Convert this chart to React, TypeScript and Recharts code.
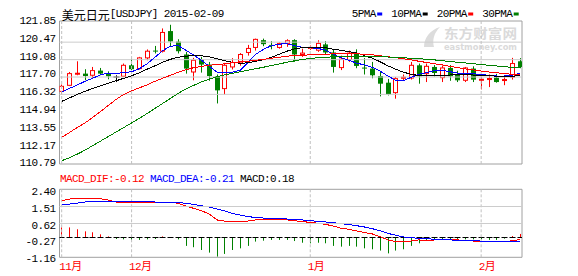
import React from "react";
import { ComposedChart, Bar, Line, XAxis, YAxis, ReferenceLine, ReferenceArea } from "recharts";

// trading days shown on the chart
const dates = [
  "2014-11-18", "2014-11-19", "2014-11-20", "2014-11-21", "2014-11-24", "2014-11-25", "2014-11-26", "2014-11-27", "2014-11-28",
  "2014-12-01", "2014-12-02", "2014-12-03", "2014-12-04", "2014-12-05", "2014-12-08", "2014-12-09", "2014-12-10", "2014-12-11",
  "2014-12-12", "2014-12-15", "2014-12-16", "2014-12-17", "2014-12-18", "2014-12-19", "2014-12-22", "2014-12-23", "2014-12-24",
  "2014-12-25", "2014-12-26", "2014-12-29", "2014-12-30", "2014-12-31",
  "2015-01-01", "2015-01-02", "2015-01-05", "2015-01-06", "2015-01-07", "2015-01-08", "2015-01-09", "2015-01-12", "2015-01-13",
  "2015-01-14", "2015-01-15", "2015-01-16", "2015-01-19", "2015-01-20", "2015-01-21", "2015-01-22", "2015-01-23", "2015-01-26",
  "2015-01-27", "2015-01-28", "2015-01-29", "2015-01-30",
  "2015-02-02", "2015-02-03", "2015-02-04", "2015-02-05", "2015-02-06", "2015-02-09",
];

const opens = [
  116.56, 117.04, 117.95, 117.97, 117.84, 118.21, 117.97, 117.70, 117.76, 118.63,
  118.37, 119.22, 119.80, 119.75, 121.35, 120.51, 119.49, 118.10, 119.09, 118.69,
  117.76, 116.78, 118.50, 118.82, 119.65, 120.05, 120.63, 120.25, 120.05, 120.37,
  120.63, 119.49, 119.97, 119.83, 120.29, 119.65, 118.45, 119.09, 119.57, 118.45,
  118.37, 117.78, 117.25, 116.46, 117.62, 117.62, 118.63, 117.97, 118.50, 117.65,
  118.42, 117.89, 117.44, 118.37, 117.45, 117.50, 117.65, 117.45, 117.70, 118.95,
];
const highs = [
  117.10, 118.10, 118.95, 118.32, 118.50, 118.42, 118.15, 117.84, 118.77, 119.17,
  119.30, 119.89, 120.17, 121.56, 121.85, 120.70, 119.70, 119.22, 119.30, 118.90,
  117.90, 118.82, 119.20, 119.60, 120.25, 120.75, 120.75, 120.55, 120.45, 120.70,
  120.70, 119.95, 120.20, 120.62, 120.55, 119.85, 119.40, 119.80, 119.90, 119.20,
  118.90, 118.10, 117.55, 117.70, 117.90, 118.90, 118.77, 118.77, 118.65, 118.62,
  118.65, 118.20, 118.50, 118.55, 117.70, 117.90, 117.95, 117.80, 119.22, 119.20,
];
const lows = [
  116.30, 116.98, 117.84, 117.44, 117.57, 117.84, 117.52, 117.30, 117.70, 118.24,
  118.29, 119.03, 119.57, 119.65, 120.10, 119.57, 117.97, 117.44, 118.05, 117.40,
  115.60, 116.30, 118.30, 118.60, 119.40, 119.80, 120.15, 119.90, 119.95, 120.10,
  118.90, 119.30, 119.85, 119.70, 119.45, 118.05, 118.25, 118.90, 118.40, 117.90,
  117.60, 116.16, 116.24, 115.98, 117.40, 117.50, 117.17, 117.30, 117.75, 117.30,
  117.40, 117.30, 117.30, 117.30, 116.72, 116.90, 117.25, 117.05, 117.50, 118.40,
];
const closes = [
  116.96, 117.97, 118.00, 117.78, 118.21, 117.97, 117.76, 117.70, 118.63, 118.32,
  119.22, 119.75, 119.75, 121.24, 120.53, 119.75, 118.37, 119.03, 118.69, 117.78,
  116.64, 118.63, 118.85, 119.49, 119.97, 120.69, 120.31, 120.20, 120.37, 120.58,
  119.49, 119.60, 120.05, 120.37, 119.65, 118.50, 119.12, 119.60, 118.58, 118.38,
  117.84, 117.17, 116.32, 117.57, 117.68, 118.63, 117.76, 118.55, 118.02, 118.42,
  117.76, 117.44, 118.42, 117.49, 117.52, 117.58, 117.30, 117.50, 118.77, 118.50,
];

// moving averages
const ma5 = [
  116.48, 116.80, 117.06, 117.36, 117.60, 117.88, 118.00, 118.00, 118.04, 118.12,
  118.36, 118.75, 119.27, 119.79, 120.15, 120.19, 119.83, 119.43, 119.03, 118.55,
  118.08, 118.04, 118.08, 118.24, 118.87, 119.51, 119.91, 120.19, 120.31, 120.35,
  120.19, 120.05, 120.02, 119.97, 119.83, 119.51, 119.22, 119.03, 118.79, 118.67,
  118.47, 118.16, 117.78, 117.44, 117.40, 117.68, 117.92, 118.05, 118.20, 118.24,
  118.12, 118.00, 117.97, 117.96, 117.89, 117.84, 117.78, 117.78, 117.84, 118.00,
];
const ma10 = [
  115.76, 116.04, 116.32, 116.56, 116.80, 117.00, 117.20, 117.40, 117.60, 117.80,
  118.04, 118.32, 118.59, 118.87, 119.11, 119.27, 119.35, 119.41, 119.39, 119.30,
  119.15, 118.99, 118.87, 118.79, 118.83, 118.95, 119.07, 119.27, 119.51, 119.75,
  119.95, 120.03, 120.05, 120.05, 120.02, 119.91, 119.81, 119.71, 119.62, 119.39,
  119.19, 118.91, 118.59, 118.32, 118.08, 117.92, 117.81, 117.78, 117.80, 117.84,
  117.86, 117.88, 117.88, 117.86, 117.84, 117.80, 117.77, 117.76, 117.77, 117.80,
];
const ma20 = [
  112.91, 113.29, 113.69, 114.05, 114.49, 114.96, 115.44, 115.92, 116.32, 116.60,
  116.84, 117.08, 117.36, 117.60, 117.84, 118.08, 118.28, 118.44, 118.55, 118.63,
  118.69, 118.75, 118.83, 118.90, 118.95, 119.03, 119.11, 119.19, 119.27, 119.35,
  119.41, 119.43, 119.46, 119.47, 119.51, 119.54, 119.55, 119.55, 119.54, 119.51,
  119.46, 119.39, 119.31, 119.23, 119.15, 119.06, 118.95, 118.85, 118.75, 118.66,
  118.55, 118.44, 118.34, 118.26, 118.18, 118.10, 118.04, 117.97, 117.92, 117.88,
];
const ma30 = [
  111.05, 111.29, 111.57, 111.89, 112.25, 112.61, 112.97, 113.33, 113.69, 114.05,
  114.41, 114.80, 115.20, 115.60, 116.00, 116.40, 116.76, 117.04, 117.32, 117.52,
  117.72, 117.88, 118.00, 118.12, 118.24, 118.36, 118.48, 118.61, 118.74, 118.87,
  118.99, 119.09, 119.17, 119.23, 119.27, 119.31, 119.34, 119.35, 119.35, 119.35,
  119.34, 119.31, 119.29, 119.26, 119.23, 119.19, 119.15, 119.11, 119.06, 118.99,
  118.93, 118.87, 118.82, 118.75, 118.69, 118.63, 118.58, 118.52, 118.46, 118.47,
];

// MACD panel
const dif = [
  1.96, 2.05, 2.08, 2.08, 2.08, 2.07, 1.99, 1.89, 1.87, 1.85,
  1.85, 1.85, 1.85, 1.85, 1.87, 1.82, 1.67, 1.55, 1.42, 1.25,
  0.93, 0.87, 0.82, 0.82, 0.87, 0.93, 0.96, 0.96, 0.93, 0.93,
  0.89, 0.84, 0.80, 0.75, 0.69, 0.60, 0.48, 0.43, 0.34, 0.25,
  0.18, 0.03, -0.14, -0.23, -0.23, -0.20, -0.14, -0.18, -0.14, -0.14,
  -0.14, -0.14, -0.16, -0.20, -0.20, -0.25, -0.25, -0.25, -0.18, -0.12,
];
const dea = [
  1.73, 1.78, 1.83, 1.89, 1.92, 1.94, 1.94, 1.94, 1.94, 1.92,
  1.91, 1.91, 1.89, 1.89, 1.89, 1.87, 1.82, 1.76, 1.69, 1.62,
  1.51, 1.41, 1.28, 1.19, 1.10, 1.07, 1.03, 1.01, 1.00, 0.98,
  0.96, 0.93, 0.89, 0.85, 0.82, 0.78, 0.73, 0.68, 0.62, 0.55,
  0.46, 0.35, 0.21, 0.11, 0.02, -0.02, -0.06, -0.07, -0.11, -0.13,
  -0.14, -0.16, -0.18, -0.18, -0.20, -0.23, -0.23, -0.23, -0.23, -0.21,
];
const macd = [
  0.53, 0.53, 0.43, 0.32, 0.27, 0.16, 0.05, -0.09, -0.11, -0.14,
  -0.14, -0.11, -0.09, 0.05, -0.02, -0.11, -0.46, -0.53, -0.68, -0.82,
  -1.03, -0.89, -0.68, -0.59, -0.46, -0.23, -0.18, -0.14, -0.14, -0.14,
  -0.20, -0.29, -0.32, -0.29, -0.32, -0.46, -0.50, -0.46, -0.50, -0.59,
  -0.64, -0.71, -0.86, -0.71, -0.64, -0.46, -0.32, -0.18, -0.14, -0.14,
  -0.14, -0.11, -0.11, -0.11, -0.11, -0.14, -0.14, -0.07, 0.07, 0.18,
];

const priceTicks = [121.85, 120.47, 119.08, 117.7, 116.32, 114.94, 113.55, 112.17, 110.79];
const priceGrid = [120.47, 119.08, 117.7, 116.32];
const macdTicks = [2.4, 1.51, 0.62, -0.27, -1.16];
const macdGrid = [1.51, 0.62];

const maNames = ["5PMA", "10PMA", "20PMA", "30PMA"];
const maKeys = ["ma5", "ma10", "ma20", "ma30"];
const maColors = ["#0000ff", "#000000", "#ff0000", "#008000"];

const UP = "#ff0000";
const DOWN = "#008000";
const FLAT = "#000000";
const MONO = "'Liberation Mono', 'Noto Sans CJK SC', monospace";
const CJK = "'Noto Sans CJK SC', sans-serif";

const W = 578;
const H = 276;
const PLOT_LEFT = 59.5;
const PLOT_RIGHT = 522;
const X_DOMAIN: [number, number] = [-0.28, 59.26];

const data = dates.map((d, i) => ({
  i,
  date: d,
  open: opens[i],
  high: highs[i],
  low: lows[i],
  close: closes[i],
  range: [lows[i], highs[i]],
  ma5: ma5[i],
  ma10: ma10[i],
  ma20: ma20[i],
  ma30: ma30[i],
  dif: dif[i],
  dea: dea[i],
  hist: macd[i],
}));

// first trading day of each month
const monthTicks = dates
  .map((d, i) => (i === 0 || d.slice(5, 7) !== dates[i - 1].slice(5, 7) ? i : -1))
  .filter((i) => i >= 0);
const monthLabel = (i: number) => `${Number(dates[i].slice(5, 7))}月`;

function Candle(props: any) {
  const { x, y, width, height, payload } = props;
  if (x == null || payload == null) return null;
  const { open, close, high, low } = payload;
  const top = Math.min(y, y + height);
  const h = Math.abs(height);
  const k = high > low ? h / (high - low) : 0;
  const py = (v: number) => top + (high - v) * k;
  const cx = Math.floor(x + width / 2) + 0.5;
  const bTop = py(Math.max(open, close));
  const bBot = py(Math.min(open, close));
  if (close > open) {
    return (
      <g>
        <line x1={cx} x2={cx} y1={top} y2={bTop} stroke={UP} />
        <line x1={cx} x2={cx} y1={bBot} y2={top + h} stroke={UP} />
        <rect x={cx - 2} y={bTop} width={4} height={Math.max(bBot - bTop, 1)} fill="#fff" stroke={UP} />
      </g>
    );
  }
  const color = close < open ? DOWN : FLAT;
  return (
    <g>
      <line x1={cx} x2={cx} y1={top} y2={top + h} stroke={color} />
      {close < open ? (
        <rect x={cx - 2.5} y={bTop} width={5} height={Math.max(bBot - bTop, 1)} fill={color} />
      ) : (
        <line x1={cx - 3} x2={cx + 3} y1={bTop} y2={bTop} stroke={color} />
      )}
    </g>
  );
}

function MacdBar(props: any) {
  const { x, y, width, height, payload } = props;
  if (x == null || payload == null) return null;
  const top = Math.min(y, y + height);
  const bot = Math.max(y, y + height);
  const v = payload.hist;
  const base = Math.round((v >= 0 ? bot : top) - 0.5) + 0.5;
  const cx = Math.floor(x + width / 2) + 0.5;
  return (
    <g>
      <line x1={cx} x2={cx} y1={top} y2={bot} stroke={v >= 0 ? UP : DOWN} />
      <line x1={cx - 3} x2={cx + 3} y1={base} y2={base} stroke="#000" />
    </g>
  );
}

// eastmoney spreads the price labels evenly from the top to the bottom edge
function PriceTick(props: any) {
  const { payload, index } = props;
  const y = 21 + (index * 142.3) / (priceTicks.length - 1);
  return (
    <text x={55.5} y={y} dominantBaseline="central" textAnchor="end" fontSize={11} fontFamily={MONO} letterSpacing={-0.6} fill="#000">
      {payload.value.toFixed(2)}
    </text>
  );
}

function MacdTick(props: any) {
  const { y, payload } = props;
  const grid = macdGrid.includes(payload.value);
  return (
    <g>
      {grid && <line x1={PLOT_LEFT} x2={PLOT_RIGHT} y1={Math.round(y - 3) + 0.5} y2={Math.round(y - 3) + 0.5} stroke="#cccccc" />}
      <text x={55.5} y={y} dominantBaseline="central" textAnchor="end" fontSize={11} fontFamily={MONO} letterSpacing={-0.6} fill="#000">
        {payload.value.toFixed(2)}
      </text>
    </g>
  );
}

function MonthTick(props: any) {
  const { x, payload } = props;
  return (
    <text x={x - 2.5} y={267} dominantBaseline="central" textAnchor="start" fontSize={11} fontFamily={MONO} letterSpacing={-0.6} fill="#ff0000">
      {monthLabel(payload.value)}
    </text>
  );
}

function Legend() {
  let x = 351.7;
  const items = maNames.map((name, k) => {
    const tx = x;
    const rx = tx + name.length * 6 + 1.5;
    x = rx + 14;
    return (
      <g key={name}>
        <text x={tx} y={14} dominantBaseline="central" fontSize={11} fontFamily={MONO} letterSpacing={-0.6} fill="#000">
          {name}
        </text>
        <rect x={rx} y={12.5} width={5} height={3} fill={maColors[k]} />
      </g>
    );
  });
  return <g>{items}</g>;
}

export default function App() {
  const last = data[data.length - 1];
  return (
    <div style={{ position: "fixed", left: 0, top: 0, width: W, height: H, background: "#fff", overflow: "hidden" }}>
      <style>{".recharts-line-curve { shape-rendering: crispEdges; }"}</style>
      {/* watermark */}
      <svg width={W} height={H} style={{ position: "absolute", left: 0, top: 0 }}>
        <path d="M424 47 C424 38 430 30 440 27 C434 33 432 40 434 47 Z" fill="#dcdcdc" />
        <text x={444} y={32.5} dominantBaseline="central" fontFamily={CJK} fontSize={13} fontWeight={700} fill="#dadada" textLength={73} lengthAdjust="spacingAndGlyphs">
          东方财富网
        </text>
        <text x={444} y={47} dominantBaseline="central" fontFamily="'DejaVu Sans', sans-serif" fontSize={8} fontWeight={700} fill="#dadada" textLength={73} lengthAdjust="spacingAndGlyphs">
          eastmoney.com
        </text>
      </svg>

      {/* price panel */}
      <div style={{ position: "absolute", left: 0, top: 0 }}>
        <ComposedChart width={W} height={170} data={data} margin={{ top: 21, right: W - PLOT_RIGHT, bottom: 6, left: 0 }}>
          <XAxis type="number" dataKey="i" domain={X_DOMAIN} allowDataOverflow hide />
          <YAxis
            type="number"
            width={PLOT_LEFT}
            domain={[110.79, 122.15]}
            allowDataOverflow
            ticks={priceTicks}
            interval={0}
            axisLine={false}
            tickLine={false}
            tick={<PriceTick />}
          />
          {priceGrid.map((v) => (
            <ReferenceLine key={v} y={v} stroke="#cccccc" />
          ))}
          {monthTicks.map((t) => (
            <ReferenceLine key={t} x={t} stroke="#c0c0c0" strokeDasharray="3 2" />
          ))}
          <Bar dataKey="range" barSize={6} shape={<Candle />} isAnimationActive={false} />
          {maKeys.map((k, n) => (
            <Line key={k} dataKey={k} type="linear" stroke={maColors[n]} strokeWidth={1} dot={false} activeDot={false} isAnimationActive={false} />
          ))}
          <ReferenceArea x1={X_DOMAIN[0]} x2={X_DOMAIN[1]} y1={110.79} y2={122.15} fill="none" stroke="#a0a0a0" />
        </ComposedChart>
      </div>

      {/* MACD panel */}
      <div style={{ position: "absolute", left: 0, top: 0 }}>
        <ComposedChart width={W} height={H} data={data} margin={{ top: 189.3, right: W - PLOT_RIGHT, bottom: 0, left: 0 }}>
          <XAxis
            type="number"
            dataKey="i"
            domain={X_DOMAIN}
            allowDataOverflow
            ticks={monthTicks}
            interval={0}
            height={18.7}
            axisLine={false}
            tickLine={false}
            tick={<MonthTick />}
          />
          <YAxis
            type="number"
            width={PLOT_LEFT}
            domain={[-1.07, 2.57]}
            allowDataOverflow
            ticks={macdTicks}
            interval={0}
            axisLine={false}
            tickLine={false}
            tick={<MacdTick />}
          />
          {monthTicks.map((t) => (
            <ReferenceLine key={t} x={t} stroke="#c0c0c0" strokeDasharray="3 2" />
          ))}
          <Bar dataKey="hist" barSize={2} shape={<MacdBar />} isAnimationActive={false} />
          <Line dataKey="dif" type="linear" stroke="#ff0000" strokeWidth={1} dot={false} activeDot={false} isAnimationActive={false} />
          <Line dataKey="dea" type="linear" stroke="#0000ff" strokeWidth={1} dot={false} activeDot={false} isAnimationActive={false} />
          <ReferenceArea x1={X_DOMAIN[0]} x2={X_DOMAIN[1]} y1={-1.07} y2={2.57} fill="none" stroke="#a0a0a0" />
        </ComposedChart>
      </div>

      {/* titles and legend */}
      <svg width={W} height={H} style={{ position: "absolute", left: 0, top: 0, pointerEvents: "none" }}>
        <text x={61.7} y={13.5} dominantBaseline="central" fill="#000">
          <tspan fontFamily={CJK} fontSize={12}>美元日元</tspan>
          <tspan fontFamily={MONO} fontSize={11} letterSpacing={-0.6}>[USDJPY] {last.date}</tspan>
        </text>
        <Legend />
        <text x={60} y={178.7} dominantBaseline="central" fontFamily={MONO} fontSize={11} letterSpacing={-0.6}>
          <tspan fill="#ff0000">MACD_DIF:{last.dif.toFixed(2)}</tspan>
          <tspan fill="#0000ff" x={150}>MACD_DEA:{last.dea.toFixed(2)}</tspan>
          <tspan fill="#000000" x={240}>MACD:{last.hist.toFixed(2)}</tspan>
        </text>
      </svg>
    </div>
  );
}
